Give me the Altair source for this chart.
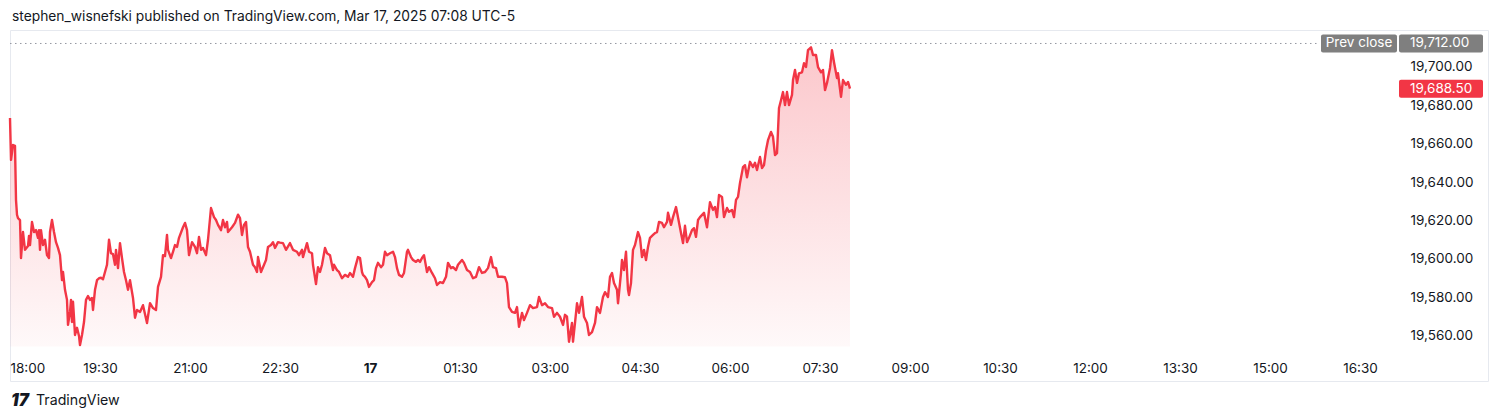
import altair as alt
import pandas as pd

header_text = "stephen_wisnefski published on TradingView.com, Mar 17, 2025 07:08 UTC-5"
brand_text = "TradingView"

# ---- evening session 18:00-23:59 ----
times_evening = [
    "18:00", "18:01", "18:03", "18:05", "18:06", "18:07", "18:08", "18:10", "18:11", "18:13",
    "18:15", "18:18", "18:19", "18:20", "18:22", "18:24", "18:26", "18:28", "18:29", "18:30",
    "18:31", "18:33", "18:35", "18:37", "18:39", "18:40", "18:42", "18:44", "18:46", "18:48",
    "18:50", "18:52", "18:53", "18:55", "18:57", "18:58", "19:00", "19:01", "19:02", "19:03",
    "19:04", "19:05", "19:07", "19:09", "19:10", "19:12", "19:14", "19:16", "19:18", "19:20",
    "19:22", "19:23", "19:25", "19:27", "19:29", "19:31", "19:33", "19:35", "19:37", "19:39",
    "19:41", "19:43", "19:45", "19:46", "19:48", "19:50", "19:52", "19:54", "19:56", "19:58",
    "20:00", "20:03", "20:05", "20:07", "20:10", "20:13", "20:17", "20:20", "20:23", "20:26",
    "20:28", "20:31", "20:33", "20:35", "20:37", "20:38", "20:41", "20:43", "20:45", "20:47",
    "20:49", "20:53", "20:55", "20:57", "20:59", "21:02", "21:05", "21:07", "21:09", "21:11",
    "21:13", "21:16", "21:18", "21:21", "21:24", "21:26", "21:28", "21:31", "21:33", "21:35",
    "21:37", "21:38", "21:42", "21:45", "21:48", "21:50", "21:52", "21:54", "21:56", "21:58",
    "22:00", "22:03", "22:05", "22:07", "22:08", "22:11", "22:13", "22:16", "22:18", "22:21",
    "22:23", "22:25", "22:28", "22:30", "22:33", "22:36", "22:40", "22:43", "22:47", "22:49",
    "22:52", "22:53", "22:57", "22:59", "23:02", "23:03", "23:06", "23:08", "23:10", "23:12",
    "23:15", "23:17", "23:20", "23:23", "23:24", "23:27", "23:29", "23:32", "23:35", "23:38",
    "23:40", "23:43", "23:45", "23:48", "23:50", "23:52", "23:53", "23:55", "23:57", "23:59",
]
prices_evening = [
    19673.25, 19651.5, 19659.25, 19658.75, 19630.75, 19623.0, 19621.25, 19620.25, 19600.5, 19614.0,
    19604.75, 19606.75, 19612.0, 19607.25, 19619.25, 19614.0, 19615.0, 19611.0, 19615.0, 19604.75,
    19615.0, 19607.25, 19610.0, 19602.0, 19600.5, 19614.0, 19620.25, 19614.0, 19608.75, 19605.75,
    19602.0, 19589.0, 19593.25, 19584.0, 19578.75, 19565.75, 19572.5, 19578.75, 19567.25, 19577.75,
    19569.5, 19560.5, 19564.25, 19560.0, 19555.25, 19560.5, 19567.25, 19578.75, 19580.75, 19578.75,
    19579.75, 19573.5, 19584.0, 19589.0, 19590.0, 19590.25, 19589.5, 19593.25, 19597.0, 19610.0,
    19603.0, 19602.5, 19597.0, 19604.75, 19595.25, 19608.25, 19600.5, 19593.25, 19589.0, 19584.0,
    19589.0, 19579.75, 19569.5, 19573.5, 19572.5, 19576.0, 19566.75, 19577.0, 19574.5, 19573.5,
    19585.5, 19590.75, 19602.0, 19601.5, 19612.5, 19604.75, 19600.5, 19603.75, 19607.25, 19606.25,
    19611.0, 19616.5, 19618.75, 19615.0, 19602.0, 19608.75, 19606.25, 19603.0, 19611.5, 19604.75,
    19605.75, 19602.0, 19610.0, 19626.5, 19621.75, 19620.25, 19617.75, 19615.0, 19620.25, 19616.5,
    19619.25, 19614.0, 19616.5, 19618.75, 19623.0, 19621.25, 19612.5, 19617.75, 19619.25, 19606.25,
    19603.75, 19597.0, 19595.75, 19593.25, 19601.0, 19593.25, 19595.75, 19599.5, 19606.25, 19607.25,
    19608.75, 19605.75, 19608.75, 19608.5, 19608.25, 19604.75, 19608.25, 19604.75, 19603.75, 19602.0,
    19604.75, 19601.0, 19608.25, 19603.75, 19603.0, 19597.0, 19587.0, 19595.75, 19593.25, 19597.0,
    19605.75, 19603.0, 19602.0, 19594.25, 19597.0, 19594.25, 19593.25, 19590.0, 19591.75, 19590.75,
    19592.75, 19590.75, 19595.25, 19601.0, 19600.5, 19593.25, 19591.75, 19590.75, 19589.0, 19585.5,
]

# ---- overnight 00:00-03:59 ----
times_overnight = [
    "00:02", "00:04", "00:06", "00:08", "00:11", "00:13", "00:15", "00:17", "00:20", "00:23",
    "00:25", "00:27", "00:29", "00:32", "00:34", "00:37", "00:38", "00:41", "00:43", "00:46",
    "00:48", "00:50", "00:52", "00:54", "00:57", "00:59", "01:02", "01:05", "01:07", "01:10",
    "01:13", "01:16", "01:18", "01:21", "01:23", "01:26", "01:28", "01:32", "01:34", "01:37",
    "01:40", "01:43", "01:46", "01:49", "01:52", "01:55", "01:58", "02:01", "02:03", "02:06",
    "02:08", "02:12", "02:15", "02:17", "02:19", "02:22", "02:25", "02:27", "02:29", "02:32",
    "02:34", "02:37", "02:40", "02:43", "02:47", "02:49", "02:52", "02:55", "02:58", "03:02",
    "03:04", "03:07", "03:10", "03:13", "03:15", "03:17", "03:19", "03:22", "03:23", "03:25",
    "03:27", "03:29", "03:32", "03:34", "03:37", "03:39", "03:42", "03:45", "03:47", "03:50",
    "03:53", "03:55", "03:58",
]
prices_overnight = [
    19588.0, 19589.0, 19595.25, 19598.0, 19595.75, 19597.0, 19603.75, 19602.0, 19603.0, 19603.75,
    19601.0, 19595.25, 19591.75, 19590.75, 19592.75, 19603.75, 19604.75, 19601.0, 19599.5, 19598.5,
    19599.5, 19598.5, 19600.5, 19602.0, 19593.25, 19595.75, 19592.75, 19590.0, 19586.5, 19588.0,
    19587.5, 19590.75, 19598.0, 19595.25, 19595.75, 19594.25, 19597.0, 19599.5, 19598.0, 19594.25,
    19593.25, 19590.0, 19590.75, 19595.75, 19592.75, 19593.25, 19595.25, 19601.0, 19595.75, 19595.25,
    19590.75, 19590.75, 19590.5, 19587.5, 19575.0, 19572.5, 19572.0, 19575.0, 19564.75, 19572.0,
    19568.25, 19572.0, 19576.0, 19574.5, 19575.0, 19580.25, 19576.0, 19577.0, 19575.0, 19574.5,
    19570.0, 19572.0, 19570.0, 19565.75, 19571.0, 19570.0, 19557.0, 19566.75, 19557.0, 19566.75,
    19577.0, 19572.0, 19580.25, 19570.0, 19566.75, 19560.5, 19562.0, 19566.75, 19575.0, 19572.0,
    19580.25, 19582.75, 19580.25,
]

# ---- morning 04:00-08:00 ----
times_morning = [
    "04:00", "04:02", "04:04", "04:07", "04:08", "04:11", "04:12", "04:14", "04:16", "04:18",
    "04:19", "04:21", "04:23", "04:25", "04:28", "04:30", "04:32", "04:34", "04:36", "04:38",
    "04:40", "04:43", "04:45", "04:47", "04:49", "04:52", "04:54", "04:57", "04:58", "05:01",
    "05:03", "05:06", "05:08", "05:11", "05:13", "05:15", "05:17", "05:19", "05:22", "05:24",
    "05:26", "05:28", "05:30", "05:34", "05:37", "05:40", "05:43", "05:45", "05:47", "05:49",
    "05:52", "05:54", "05:57", "05:59", "06:02", "06:04", "06:06", "06:08", "06:10", "06:13",
    "06:15", "06:17", "06:20", "06:23", "06:25", "06:27", "06:30", "06:32", "06:34", "06:36",
    "06:38", "06:41", "06:43", "06:45", "06:47", "06:49", "06:51", "06:53", "06:55", "06:57",
    "06:59", "07:02", "07:03", "07:05", "07:07", "07:09", "07:12", "07:14", "07:16", "07:18",
    "07:21", "07:23", "07:26", "07:28", "07:31", "07:33", "07:35", "07:37", "07:40", "07:42",
    "07:44", "07:47", "07:48", "07:51", "07:53", "07:56", "07:58", "08:00",
]
prices_morning = [
    19590.75, 19592.75, 19587.5, 19584.0, 19577.0, 19592.75, 19599.5, 19594.25, 19603.75, 19584.0,
    19581.25, 19587.5, 19604.75, 19607.25, 19614.0, 19611.0, 19601.0, 19604.75, 19599.5, 19606.25,
    19611.0, 19612.5, 19613.5, 19614.0, 19619.25, 19618.75, 19616.5, 19619.25, 19624.0, 19617.75,
    19621.75, 19627.0, 19621.75, 19613.5, 19608.25, 19617.25, 19608.75, 19611.0, 19615.0, 19616.0,
    19611.5, 19620.25, 19621.75, 19624.0, 19616.5, 19629.5, 19625.5, 19627.0, 19621.75, 19633.25,
    19632.25, 19621.75, 19626.5, 19624.5, 19625.5, 19621.75, 19630.75, 19632.25, 19639.5, 19647.75,
    19648.75, 19642.5, 19650.5, 19647.75, 19650.0, 19646.25, 19653.0, 19647.25, 19648.75, 19656.5,
    19661.75, 19666.0, 19663.5, 19654.0, 19655.0, 19678.5, 19682.5, 19686.75, 19680.0, 19686.75,
    19680.0, 19685.25, 19693.0, 19698.25, 19691.5, 19696.5, 19697.0, 19701.75, 19699.75, 19708.5,
    19710.0, 19706.0, 19706.0, 19699.75, 19697.0, 19698.25, 19687.75, 19691.5, 19699.25, 19708.5,
    19702.25, 19694.0, 19696.5, 19684.25, 19693.0, 19690.5, 19692.0, 19688.5,
]

x_tick_labels = ["18:00", "19:30", "21:00", "22:30", "17", "01:30", "03:00", "04:30",
                 "06:00", "07:30", "09:00", "10:30", "12:00", "13:30", "15:00", "16:30"]
y_ticks = [19560, 19580, 19600, 19620, 19640, 19660, 19680, 19700]
prev_close = 19712.00
last_price = 19688.50
y_domain = [19536.6, 19719.0]
area_floor = 19554.5

RED = "#F23645"
GRAY_TAG = "#7f7f7f"
TEXT = "#131722"
FONT = "Inter"
AXIS_FS = 13.5

W, H = 1478, 351
session_minutes = W  # one pixel per minute


def to_min(t):
    h, m = map(int, t.split(":"))
    return (h * 60 + m - 18 * 60) % 1440


times = times_evening + times_overnight + times_morning
prices = prices_evening + prices_overnight + prices_morning
df = pd.DataFrame({"t": [to_min(t) for t in times], "price": prices})

x_tick_values = [i * 90 for i in range(len(x_tick_labels))]
label_expr = "[" + ",".join("'%s'" % s for s in x_tick_labels) + "][round(datum.value / 90)]"

x_enc = alt.X(
    "t:Q",
    scale=alt.Scale(domain=[0, session_minutes], nice=False, zero=False),
    axis=alt.Axis(
        orient="bottom", values=x_tick_values, labelExpr=label_expr, title=None,
        grid=False, domain=False, ticks=False, offset=-20, labelPadding=0,
        labelFont=FONT, labelFontSize=AXIS_FS, labelColor=TEXT, labelFlush=True,
        labelFontWeight={"condition": {"test": "datum.value == 360", "value": "bold"}, "value": "normal"},
    ),
)
y_enc = alt.Y(
    "price:Q",
    scale=alt.Scale(domain=y_domain, nice=False, zero=False),
    axis=alt.Axis(
        orient="right", values=y_ticks, format=",.2f", title=None, grid=False,
        domain=False, ticks=False, offset=-78, labelPadding=0, labelAlign="left",
        labelFont=FONT, labelFontSize=AXIS_FS, labelColor=TEXT,
    ),
)

gradient = alt.Gradient(
    gradient="linear",
    stops=[
        alt.GradientStop(color="rgba(242,54,69,0.28)", offset=0),
        alt.GradientStop(color="rgba(242,54,69,0.03)", offset=1),
    ],
    x1=1, x2=1, y1=0, y2=1,
)

area = alt.Chart(df).mark_area(fill=gradient).encode(
    x=x_enc, y=y_enc, y2=alt.Y2Datum(area_floor)
)
line = alt.Chart(df).mark_line(color=RED, strokeWidth=2.4, strokeJoin="round").encode(x=x_enc, y=y_enc)

pc_df = pd.DataFrame({"price": [prev_close], "txt": ["Prev close"]})
prev_rule = alt.Chart(pc_df).mark_rule(
    color="#9598a1", strokeWidth=1, strokeDash=[1.5, 3.5]
).encode(y=y_enc, x=alt.value(0), x2=alt.value(1310))
prev_tag = alt.Chart(pc_df).mark_rect(
    color=GRAY_TAG, cornerRadius=2, yOffset=-9, y2Offset=9
).encode(y=y_enc, y2=alt.Y2("price:Q"), x=alt.value(1311), x2=alt.value(1387))
prev_tag_text = alt.Chart(pc_df).mark_text(
    color="white", font=FONT, fontSize=AXIS_FS, align="center", baseline="middle"
).encode(y=y_enc, x=alt.value(1349), text="txt:N")

tags_df = pd.DataFrame({"price": [prev_close, last_price], "bg": [GRAY_TAG, RED]})
value_tags = alt.Chart(tags_df).mark_rect(
    cornerRadius=2, yOffset=-9, y2Offset=9
).encode(
    y=y_enc, y2=alt.Y2("price:Q"), x=alt.value(1389), x2=alt.value(1473),
    color=alt.Color("bg:N", scale=None),
)
value_text = alt.Chart(tags_df).mark_text(
    color="white", font=FONT, fontSize=AXIS_FS, align="left", baseline="middle"
).encode(y=y_enc, x=alt.value(1400), text=alt.Text("price:Q", format=",.2f"))

head_df = pd.DataFrame({"txt": [header_text]})
header = alt.Chart(head_df).mark_text(
    align="left", baseline="middle", font=FONT, fontSize=13.8, color=TEXT
).encode(x=alt.value(2), y=alt.value(-13), text="txt:N")

brand_df = pd.DataFrame({"txt": [brand_text], "logo": ["17"]})
brand = alt.Chart(brand_df).mark_text(
    align="left", baseline="middle", font=FONT, fontSize=14.2, color=TEXT
).encode(x=alt.value(26), y=alt.value(371), text="txt:N")
logo = alt.Chart(brand_df).mark_text(
    align="left", baseline="middle", font=FONT, fontSize=17, fontWeight=900,
    fontStyle="italic", color=TEXT
).encode(x=alt.value(1), y=alt.value(371), text="logo:N")

chart = alt.layer(
    area, prev_rule, line, prev_tag, prev_tag_text, value_tags, value_text, header, brand, logo
).properties(
    width=W, height=H,
    autosize=alt.AutoSizeParams(type="none"),
    padding={"left": 2, "top": 22, "right": 4, "bottom": 38},
    background="white",
).configure_view(stroke="#e6e9ef", strokeWidth=1)

chart.save("out.html", embed_options={"renderer": "svg", "actions": False})
